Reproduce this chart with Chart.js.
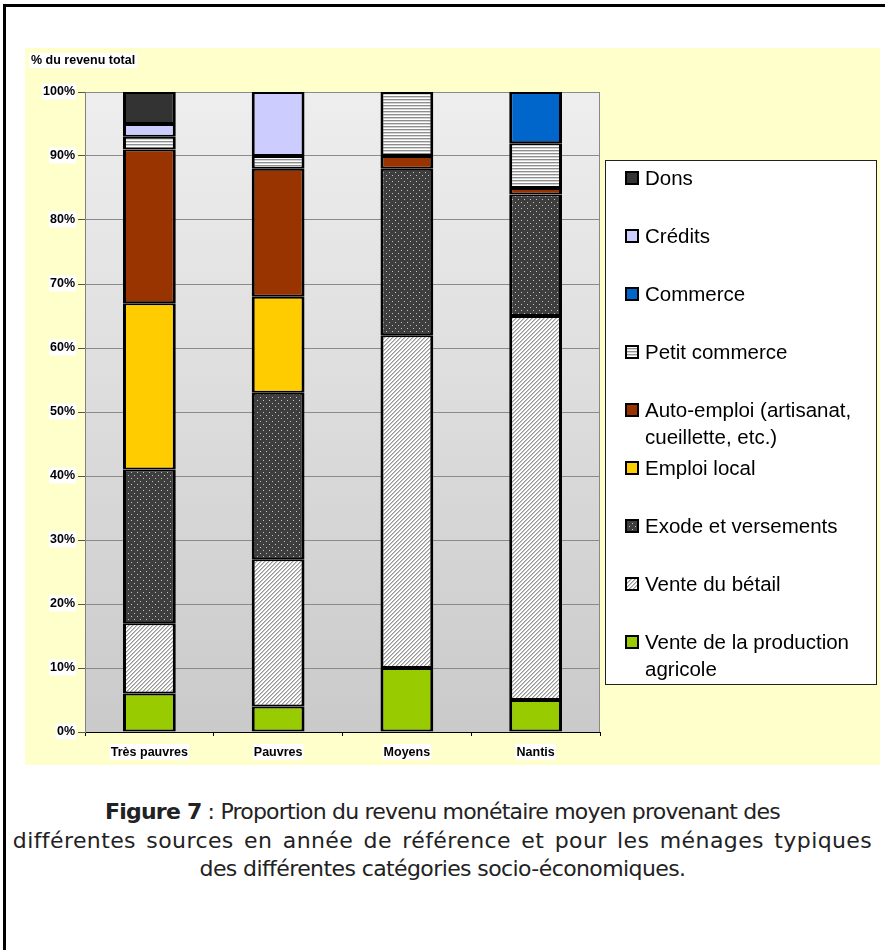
<!DOCTYPE html>
<html>
<head>
<meta charset="utf-8">
<script src="https://cdn.jsdelivr.net/npm/chart.js@4.4.1/dist/chart.umd.min.js"></script>
<style>
  html, body { margin: 0; padding: 0; background: #fff; }
  body { width: 885px; height: 950px; position: relative; overflow: hidden; }
  .frame { position: absolute; left: 3px; top: 4px; width: 900px; height: 960px; border-left: 3px solid #000; border-top: 3px solid #000; }
  .chart-box { position: absolute; left: 25px; top: 48px; width: 855px; height: 717px; }
  .caption { position: absolute; left: 0; top: 798px; width: 885px; text-align: center; font-family: 'DejaVu Sans', sans-serif; font-size: 22px; line-height: 28.5px; color: #222; white-space: nowrap; }
  .caption div { width: 885px; }
  .l1 { letter-spacing: -0.8px; }
  .l2 { letter-spacing: 0.4px; word-spacing: 3px; }
  .l3 { letter-spacing: -0.6px; }
</style>
</head>
<body>
<div class="frame"></div>
<div class="chart-box"><canvas id="revenuChart"></canvas></div>
<div class="caption">
  <div class="l1"><b>Figure 7</b> : Proportion du revenu monétaire moyen provenant des</div>
  <div class="l2">différentes sources en année de référence et pour les ménages typiques</div>
  <div class="l3">des différentes catégories socio-économiques.</div>
</div>

<script>
const categories = ['Très pauvres', 'Pauvres', 'Moyens', 'Nantis'];
const yTickValues = [0, 10, 20, 30, 40, 50, 60, 70, 80, 90, 100];
const yTitle = '% du revenu total';

// series, bottom of the stack first
const seriesNames = [
  'Vente de la production agricole',
  'Vente du bétail',
  'Exode et versements',
  'Emploi local',
  'Auto-emploi (artisanat, cueillette, etc.)',
  'Petit commerce',
  'Commerce',
  'Crédits',
  'Dons'
];
const venteAgricole = [6, 4, 10, 5];
const venteBetail = [11, 23, 52, 60];
const exode = [24, 26, 26, 19];
const emploiLocal = [26, 15, 0, 0];
const autoEmploi = [24, 20, 2, 1];
const petitCommerce = [2, 2, 10, 7];
const commerce = [0, 0, 0, 8];
const credits = [2, 10, 0, 0];
const dons = [5, 0, 0, 0];

const FONT = "'Liberation Sans', Arial, sans-serif";

// small canvas patterns for the hatched series
function makePattern(w, h, paint) {
  const c = document.createElement('canvas');
  c.width = w; c.height = h;
  const g = c.getContext('2d');
  paint(g);
  return g.createPattern(c, 'repeat');
}

const hLines = makePattern(4, 3, g => {
  g.fillStyle = '#fff'; g.fillRect(0, 0, 4, 3);
  g.fillStyle = '#8e8e8e'; g.fillRect(0, 0, 4, 1);
  g.fillStyle = '#d4d4d4'; g.fillRect(0, 1, 4, 1);
});

const diagLines = makePattern(4, 4, g => {
  for (let x = 0; x < 4; x++) {
    for (let y = 0; y < 4; y++) {
      const k = (x + y) % 4;
      g.fillStyle = k === 0 ? '#999' : (k === 1 ? '#c4c4c4' : '#fff');
      g.fillRect(x, y, 1, 1);
    }
  }
});

const dots = makePattern(6, 6, g => {
  g.fillStyle = '#3e3e3e'; g.fillRect(0, 0, 6, 6);
  g.fillStyle = '#c4c4c4';
  g.fillRect(1, 1, 1, 1);
  g.fillRect(4, 4, 1, 1);
});

const fills = ['#99CC00', diagLines, dots, '#FFCC00', '#993300', hLines, '#0066CC', '#CCCCFF', '#333333'];
const values = [venteAgricole, venteBetail, exode, emploiLocal, autoEmploi, petitCommerce, commerce, credits, dons];

const datasets = seriesNames.map((name, i) => ({
  label: name,
  data: values[i],
  backgroundColor: fills[i],
  borderColor: '#000',
  borderWidth: { top: 2, bottom: 2, left: 3, right: 3 },
  borderSkipped: false,
  categoryPercentage: 1,
  barPercentage: 0.41
}));

// yellow page, grey gradient plot, right border, title and framed legend
const decor = {
  id: 'decor',
  beforeDraw(chart) {
    const { ctx, chartArea: a } = chart;
    ctx.save();
    ctx.fillStyle = '#FFFFCC';
    ctx.fillRect(0, 0, chart.width, chart.height);
    const grad = ctx.createLinearGradient(0, a.top, 0, a.bottom);
    grad.addColorStop(0, '#EEEEEE');
    grad.addColorStop(1, '#CACACA');
    ctx.fillStyle = grad;
    ctx.fillRect(a.left, a.top, a.right - a.left, a.bottom - a.top);
    ctx.restore();
  },
  beforeDatasetsDraw(chart) {
    const { ctx, chartArea: a } = chart;
    ctx.save();
    ctx.strokeStyle = '#888';
    ctx.lineWidth = 1;
    ctx.beginPath();
    ctx.moveTo(a.right - 0.5, a.top);
    ctx.lineTo(a.right - 0.5, a.bottom);
    ctx.stroke();
    ctx.restore();
  },
  afterDraw(chart) {
    const ctx = chart.ctx;
    ctx.save();

    // axis title, top left
    ctx.font = 'bold 12.5px ' + FONT;
    const tw = ctx.measureText(yTitle).width;
    ctx.fillStyle = '#fff';
    ctx.fillRect(4, 5, tw + 4, 15);
    ctx.fillStyle = '#000';
    ctx.textBaseline = 'middle';
    ctx.textAlign = 'left';
    ctx.fillText(yTitle, 6, 13);

    // legend box
    const box = { left: 580, top: 112, right: 852, bottom: 637 };
    ctx.fillStyle = '#fff';
    ctx.fillRect(box.left, box.top, box.right - box.left, box.bottom - box.top);
    ctx.strokeStyle = '#222';
    ctx.lineWidth = 1;
    ctx.strokeRect(box.left + 0.5, box.top + 0.5, box.right - box.left - 1, box.bottom - box.top - 1);

    ctx.font = '20.5px ' + FONT;
    const items = chart.data.datasets.slice().reverse();
    items.forEach((ds, k) => {
      const y = 130 + 58 * k;
      ctx.fillStyle = '#000';
      ctx.fillRect(600, y - 7, 14, 14);
      ctx.fillStyle = ds.backgroundColor;
      ctx.fillRect(602, y - 5, 10, 10);

      // wrap the label to the box width
      const words = ds.label.split(' ');
      const lines = [];
      let line = '';
      words.forEach(w => {
        const test = line ? line + ' ' + w : w;
        if (ctx.measureText(test).width > 222 && line) {
          lines.push(line);
          line = w;
        } else {
          line = test;
        }
      });
      lines.push(line);

      ctx.fillStyle = '#000';
      lines.forEach((l, j) => ctx.fillText(l, 620, y + 1 + j * 27));
    });
    ctx.restore();
  }
};

new Chart(document.getElementById('revenuChart'), {
  type: 'bar',
  data: { labels: categories, datasets: datasets },
  options: {
    responsive: true,
    maintainAspectRatio: false,
    animation: false,
    layout: { padding: { top: 44, right: 280, left: 0, bottom: 0 } },
    plugins: {
      legend: { display: false },
      tooltip: { enabled: false }
    },
    scales: {
      x: {
        stacked: true,
        grid: { drawOnChartArea: false, drawTicks: true, tickLength: 4, tickColor: '#000', offset: true },
        border: { color: '#000', width: 1 },
        ticks: {
          color: '#000',
          font: { family: FONT, size: 12.5, weight: 'bold' },
          padding: 9,
          showLabelBackdrop: true,
          backdropColor: '#fff',
          backdropPadding: { top: 1, bottom: 0, left: 1, right: 1 }
        },
        afterFit: s => { s.height = 33; }
      },
      y: {
        stacked: true,
        min: 0,
        max: 100,
        afterBuildTicks: s => { s.ticks = yTickValues.map(v => ({ value: v })); },
        ticks: {
          color: '#000',
          font: { family: FONT, size: 12.5, weight: 'bold' },
          padding: 3,
          callback: v => v + '%',
          showLabelBackdrop: true,
          backdropColor: '#fff',
          backdropPadding: { top: 1, bottom: 0, left: 1, right: 1 }
        },
        grid: { color: '#8a8a8a', tickLength: 7, tickColor: '#555' },
        border: { color: '#808080', width: 1 },
        afterFit: s => { s.width = 60; }
      }
    }
  },
  plugins: [decor]
});
</script>
</body>
</html>
